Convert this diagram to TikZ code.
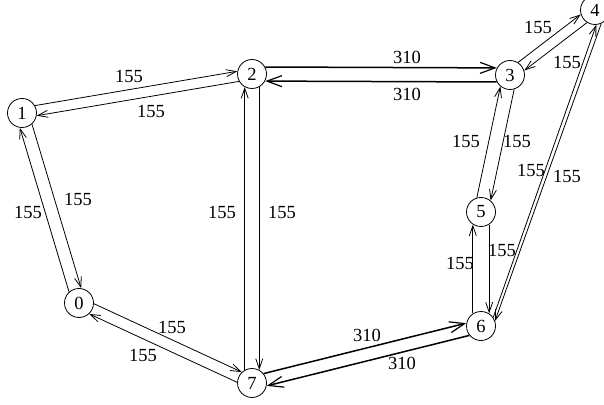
\documentclass[tikz,border=0pt]{standalone}
\usepackage{fontspec}
\setmainfont{Liberation Serif}
\usetikzlibrary{calc,arrows.meta}
\tikzset{
  vtx/.style={circle,draw,line width=0.8pt,minimum size=29pt,inner sep=0pt,font=\fontsize{18.5}{20}\selectfont},
  thin/.style={line width=0.8pt,-{Straight Barb[length=10pt,width=7pt,line width=0.8pt]}},
  thick/.style={line width=1.5pt,-{Straight Barb[length=15pt,width=11pt,line width=1.2pt]}},
  lbl/.style={inner sep=0pt,font=\fontsize{18.5}{20}\selectfont}
}
\newcommand\gedge[7]{% style, from, to, delta, label name, label pos, label
  \draw[#1] ($(#2)!15pt!#4:(#3)$) -- ($(#3)!15pt!-#4:(#2)$);
  \node[lbl] (#5) at (#6) {#7};
}
\begin{document}
\begin{tikzpicture}[x=1pt,y=1pt]
\useasboundingbox (0,0) rectangle (604,404);
\node[vtx] (n0) at (79,101) {0};
\node[vtx] (n1) at (22,291) {1};
\node[vtx] (n2) at (252,330) {2};
\node[vtx] (n3) at (510,329) {3};
\node[vtx] (n4) at (595,394) {4};
\node[vtx] (n5) at (481,192) {5};
\node[vtx] (n6) at (481,78) {6};
\node[vtx] (n7) at (252,21) {7};
\gedge{thin}{n1}{n2}{20}{l12}{129,328}{155}
\gedge{thin}{n2}{n1}{20}{l21}{151,293}{155}
\gedge{thick}{n2}{n3}{28}{l23}{407,347}{310}
\gedge{thick}{n3}{n2}{28}{l32}{407,310}{310}
\gedge{thin}{n3}{n4}{20}{l34}{538,377}{155}
\gedge{thin}{n4}{n3}{20}{l43}{567,342}{155}
\gedge{thin}{n3}{n5}{28}{l35}{517,263}{155}
\gedge{thin}{n5}{n3}{28}{l53}{466,263}{155}
\draw[thin] (n4.-65) -- (n6.20);
\node[lbl] (l46) at (567,228) {155};
\draw[thin] (n6.35) -- (n4.-85);
\node[lbl] (l64) at (531,234) {155};
\gedge{thin}{n5}{n6}{33}{l56}{502,154}{155}
\gedge{thin}{n6}{n5}{33}{l65}{460,141}{155}
\gedge{thick}{n7}{n6}{25}{l76}{367,69}{310}
\gedge{thick}{n6}{n7}{25}{l67}{402,41}{310}
\gedge{thin}{n2}{n7}{29}{l27}{282,192}{155}
\gedge{thin}{n7}{n2}{29}{l72}{222,192}{155}
\gedge{thin}{n0}{n7}{22}{l07}{172,77}{155}
\gedge{thin}{n7}{n0}{22}{l70}{143,49}{155}
\gedge{thin}{n1}{n0}{25}{l10}{78,205}{155}
\gedge{thin}{n0}{n1}{25}{l01}{28,192}{155}
\end{tikzpicture}
\end{document}
